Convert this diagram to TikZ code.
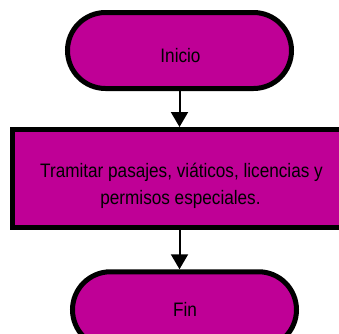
\documentclass[tikz,border=0pt]{standalone}
\usepackage{fontspec}
\setmainfont{Liberation Sans}[FakeStretch=0.88]
\usetikzlibrary{arrows.meta}
\definecolor{flowmag}{RGB}{191,0,150}
\tikzset{
  term/.style={draw=black, fill=flowmag, line width=5pt, rounded corners=38pt,
    minimum width=224pt, minimum height=76pt, inner sep=0pt},
  procbox/.style={draw=black, fill=flowmag, line width=5pt,
    minimum width=337.5pt, minimum height=98pt, inner sep=0pt},
  lbl/.style={font=\fontsize{19.5}{27}\selectfont, anchor=base, inner sep=0pt},
  flow/.style={line width=2pt, -{Triangle[length=15pt,width=17pt]}}
}
\begin{document}
\begin{tikzpicture}[x=1pt,y=-1pt]
\useasboundingbox (0,0) rectangle (339,333);
\node[term] (inicio) at (179.5,50.5) {};
\node[lbl] (iniciotxt) at (180.5,62.3) {Inicio};
\node[procbox] (tram) at (181.25,178.5) {};
\node[lbl] (tramtxta) at (181.5,177.3) {Tramitar pasajes, viáticos, licencias y};
\node[lbl] (tramtxtb) at (180.5,204.3) {permisos especiales.};
\node[term] (fin) at (184.5,309.75) {};
\node[lbl] (fintxt) at (185,316.7) {Fin};
\draw[flow] (inicio.south) -- (inicio.south |- tram.north);
\draw[flow] (inicio.south |- tram.south) -- (inicio.south |- fin.north);
\end{tikzpicture}
\end{document}
